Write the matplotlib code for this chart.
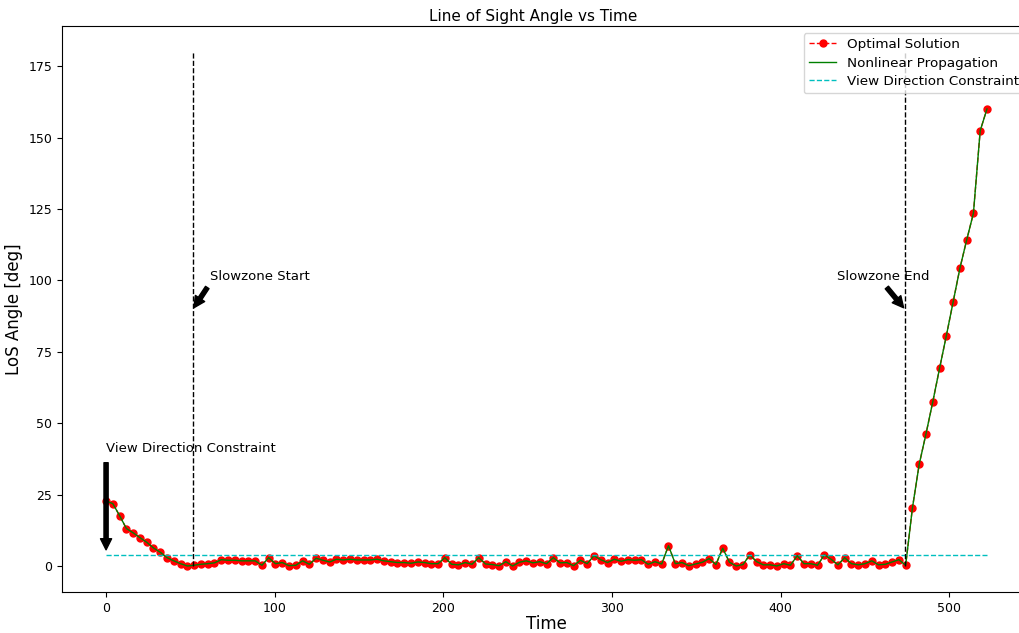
import numpy as np
import matplotlib
matplotlib.use("Agg")
import matplotlib.pyplot as plt

# line of sight angle along the trajectory [deg]
los_angle = [
    22.9, 21.9, 17.7, 13.2, 11.7, 10.0, 8.4, 6.4, 4.9, 3.0,
    1.9, 0.9, 0.1, 0.35, 0.7, 0.9, 1.2, 2.3, 2.1, 2.1,
    1.9, 1.9, 1.9, 0.35, 3.0, 0.9, 1.3, 0.2, 0.35, 1.9,
    0.7, 2.8, 2.1, 1.5, 2.45, 2.2, 2.45, 2.2, 2.2, 2.2,
    2.45, 1.9, 1.6, 1.3, 1.3, 1.05, 1.5, 1.3, 0.9, 0.9,
    3.0, 0.7, 0.5, 1.3, 0.7, 3.0, 0.8, 0.6, 0.2, 1.6,
    0.1, 1.4, 1.9, 1.2, 1.6, 0.9, 3.0, 1.2, 1.3, 0.2,
    2.1, 0.9, 3.7, 2.3, 1.3, 2.45, 1.75, 2.3, 2.1, 2.3,
    0.7, 1.6, 0.8, 7.2, 0.9, 1.3, 0.2, 0.8, 1.4, 2.7,
    0.6, 6.3, 1.4, 0.1, 0.6, 4.0, 1.6, 0.5, 0.5, 0.1,
    0.9, 0.35, 3.7, 0.9, 0.9, 0.35, 4.0, 2.45, 0.5, 3.0,
    0.9, 0.5, 0.9, 1.9, 0.5, 0.7, 1.5, 2.3, 0.35, 20.4,
    35.7, 46.3, 57.5, 69.2, 80.6, 92.4, 104.2, 114.1, 123.5, 152.4,
    160.0,
]
t_final = 522.4
time = np.linspace(0.0, t_final, len(los_angle))

view_constraint = 4.0
slowzone_start = 51.6
slowzone_end = 473.6
line_top = 180.0

fig = plt.figure(figsize=(10.2, 6.33), dpi=100)
ax = fig.add_axes([0.0608, 0.0648, 0.950, 0.894])

ax.plot(time, los_angle, 'r--o', markersize=5, linewidth=1, label='Optimal Solution')
ax.plot(time, los_angle, 'g-', linewidth=1, label='Nonlinear Propagation')
ax.plot([0.0, t_final], [view_constraint, view_constraint], 'c--', linewidth=1,
        label='View Direction Constraint')
ax.vlines([slowzone_start, slowzone_end], 0, line_top, colors='k', linestyles='--', linewidth=1)

arrow = dict(facecolor='black', shrink=0.05, width=3, headwidth=8, headlength=8)
ax.annotate('View Direction Constraint', xy=(0, view_constraint), xytext=(0, 40),
            arrowprops=arrow, fontsize=9.5)
ax.annotate('Slowzone Start', xy=(slowzone_start, 90), xytext=(slowzone_start + 10, 100),
            arrowprops=arrow, fontsize=9.5)
ax.annotate('Slowzone End', xy=(slowzone_end, 90), xytext=(slowzone_end - 40, 100),
            arrowprops=arrow, fontsize=9.5)

ax.set_title('Line of Sight Angle vs Time', fontsize=11, pad=4, x=0.486)
ax.set_xlabel('Time', fontsize=12, labelpad=0)
ax.set_ylabel('LoS Angle [deg]', fontsize=12)
ax.tick_params(labelsize=9)
ax.legend(loc='upper right', fontsize=9.7, labelspacing=0.4)

fig.savefig('out.png', dpi=100)
